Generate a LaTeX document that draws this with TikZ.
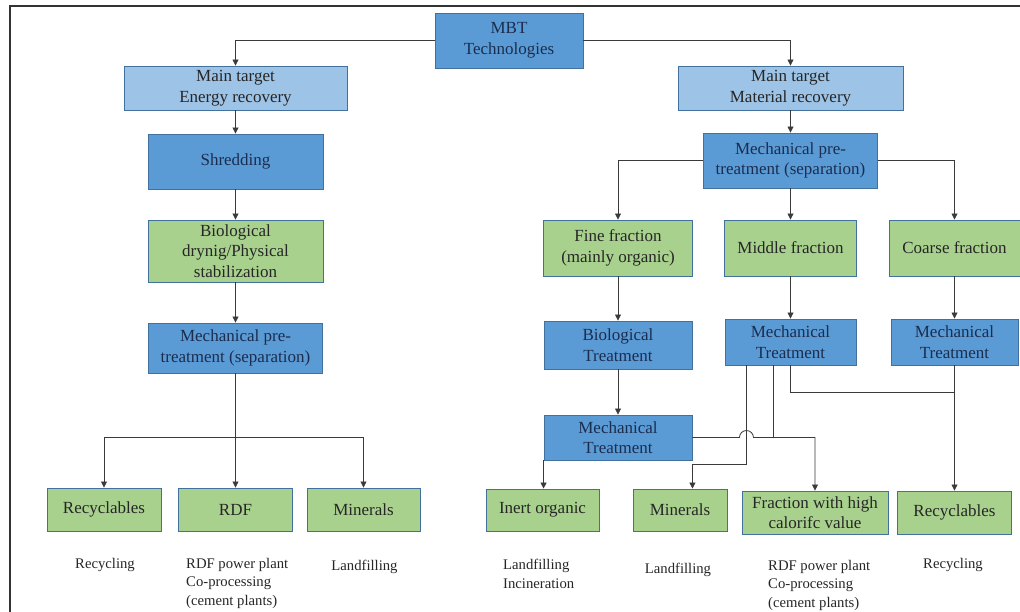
\documentclass[tikz,border=0pt]{standalone}
\usepackage{fontspec}
\setmainfont{Liberation Serif}
\usepackage{tikz}
\usetikzlibrary{arrows.meta, positioning, calc}

\definecolor{mbtblue}{HTML}{5B9BD5}
\definecolor{mbtlight}{HTML}{9DC3E6}
\definecolor{mbtgreen}{HTML}{A9D18E}
\definecolor{mbtedge}{HTML}{41719C}
\definecolor{navytext}{HTML}{1B2D4F}
\definecolor{linkgray}{HTML}{3A3A3A}

\begin{document}
\begin{tikzpicture}[
        x=1pt, y=-1pt,
        wh/.style 2 args={minimum width=#1pt, minimum height=#2pt},
        bluebox/.style={rectangle, draw=mbtedge, line width=0.9pt, fill=mbtblue, text=navytext, align=center, inner sep=2pt, font=\fontsize{17}{20.5}\selectfont},
        lightbox/.style={bluebox, fill=mbtlight, text=black!85},
        greenbox/.style={bluebox, fill=mbtgreen, text=black!85},
        note/.style={align=left, inner sep=0pt, text=black!85, font=\fontsize{14.7}{18.5}\selectfont},
        link/.style={line width=0.8pt, draw=linkgray},
        arrow/.style={link, -{Triangle[length=6pt, width=6pt]}}
    ]
        \useasboundingbox (0,0) rectangle (1020,612);
        \draw[line width=1.3pt, black!80] (10,612) -- (10,6) -- (1020,6);

        % energy recovery branch
        \node[bluebox, wh={148}{55}] (mbt) at (509,40.5) {MBT\\Technologies};
        \node[lightbox, wh={223}{44}] (energy) at (235.5,88) {Main target\\Energy recovery};
        \node[bluebox, wh={175}{55}] (shred) at (235.5,161.5) {Shredding};
        \node[greenbox, wh={175}{62}] (drying) at (235.5,251) {Biological\\drynig/Physical\\stabilization};
        \node[bluebox, wh={174}{50}] (mptL) at (235.5,348) {Mechanical pre-\\treatment (separation)};
        \node[greenbox, wh={114}{43}] (recL) at (104,509.5) {Recyclables};
        \node[greenbox, wh={114}{43}] (rdf) at (235.5,509.5) {RDF};
        \node[greenbox, wh={113}{43}] (minL) at (363.5,509.5) {Minerals};

        % material recovery branch
        \node[lightbox, wh={225}{44}] (material) at (790.5,88) {Main target\\Material recovery};
        \node[bluebox, wh={174}{55}] (mptR) at (790.5,160.5) {Mechanical pre-\\treatment (separation)};
        \node[greenbox, wh={149}{56}] (fine) at (618,248) {Fine fraction\\(mainly organic)};
        \node[greenbox, wh={132}{56}] (middle) at (790.5,248) {Middle fraction};
        \node[greenbox, wh={131}{56}] (coarse) at (954.5,248) {Coarse fraction};
        \node[bluebox, wh={148}{48}] (bioT) at (618,345) {Biological\\Treatment};
        \node[bluebox, wh={131}{46}] (mtM) at (790.5,342) {Mechanical\\Treatment};
        \node[bluebox, wh={127}{46}] (mtC) at (954.5,342) {Mechanical\\Treatment};
        \node[bluebox, wh={148}{45}] (mtB) at (618,437.5) {Mechanical\\Treatment};
        \node[greenbox, wh={113}{42}] (inert) at (542.5,510) {Inert organic};
        \node[greenbox, wh={94}{42}] (minR) at (680,510) {Minerals};
        \node[greenbox, wh={146}{43}] (frac) at (815,512.5) {Fraction with high\\calorifc value};
        \node[greenbox, wh={114}{43}] (recR) at (954.5,512.5) {Recyclables};

        % end uses
        \node[note] (recycL) at (105,565) {Recycling};
        \node[note, anchor=north west] (rdfuseL) at (186,558) {RDF power plant\\Co-processing\\(cement plants)};
        \node[note] (landL) at (364.5,567) {Landfilling};
        \node[note, anchor=north west] (landincR) at (503,559) {Landfilling\\Incineration};
        \node[note] (landR) at (678,570) {Landfilling};
        \node[note, anchor=north west] (rdfuseR) at (768,560) {RDF power plant\\Co-processing\\(cement plants)};
        \node[note] (recycR) at (953,565) {Recycling};

        \draw[arrow] (mbt.west) -| (energy);
        \draw[arrow] (mbt.east) -| (material);
        \draw[arrow] (energy) -- (shred);
        \draw[arrow] (shred) -- (drying);
        \draw[arrow] (drying) -- (mptL);
        \coordinate (splitL) at (235.5,437);
        \draw[link] (mptL) -- (splitL);
        \draw[arrow] (splitL) -| (recL);
        \draw[arrow] (splitL) -- (rdf);
        \draw[arrow] (splitL) -| (minL);

        \draw[arrow] (material) -- (mptR);
        \draw[arrow] (mptR.west) -| (fine);
        \draw[arrow] (mptR) -- (middle);
        \draw[arrow] (mptR.east) -| (coarse);
        \draw[arrow] (fine) -- (bioT);
        \draw[arrow] (bioT) -- (mtB);
        \draw[arrow] (middle) -- (mtM);
        \draw[arrow] (coarse) -- (mtC);
        \draw[arrow] (mtC) -- (recR);
        \draw[link] (mtM.south) |- ($(mtC.south)+(0,27)$);
        \draw[link] ($(mtM.south)+(-17.5,0)$) -- ++(0,73);
        \draw[arrow] ($(mtM.south)+(-44.5,0)$) |- ($(mtB.south east)+(0,4)$) -- (minR.north -| mtB.east);
        \draw[arrow] (mtB.east) -- ++(47,0) arc[start angle=180, end angle=360, radius=7] -| (frac);
        \draw[arrow] (mtB.south west) -- (mtB.south west |- inert.north);
    \end{tikzpicture}
\end{document}
